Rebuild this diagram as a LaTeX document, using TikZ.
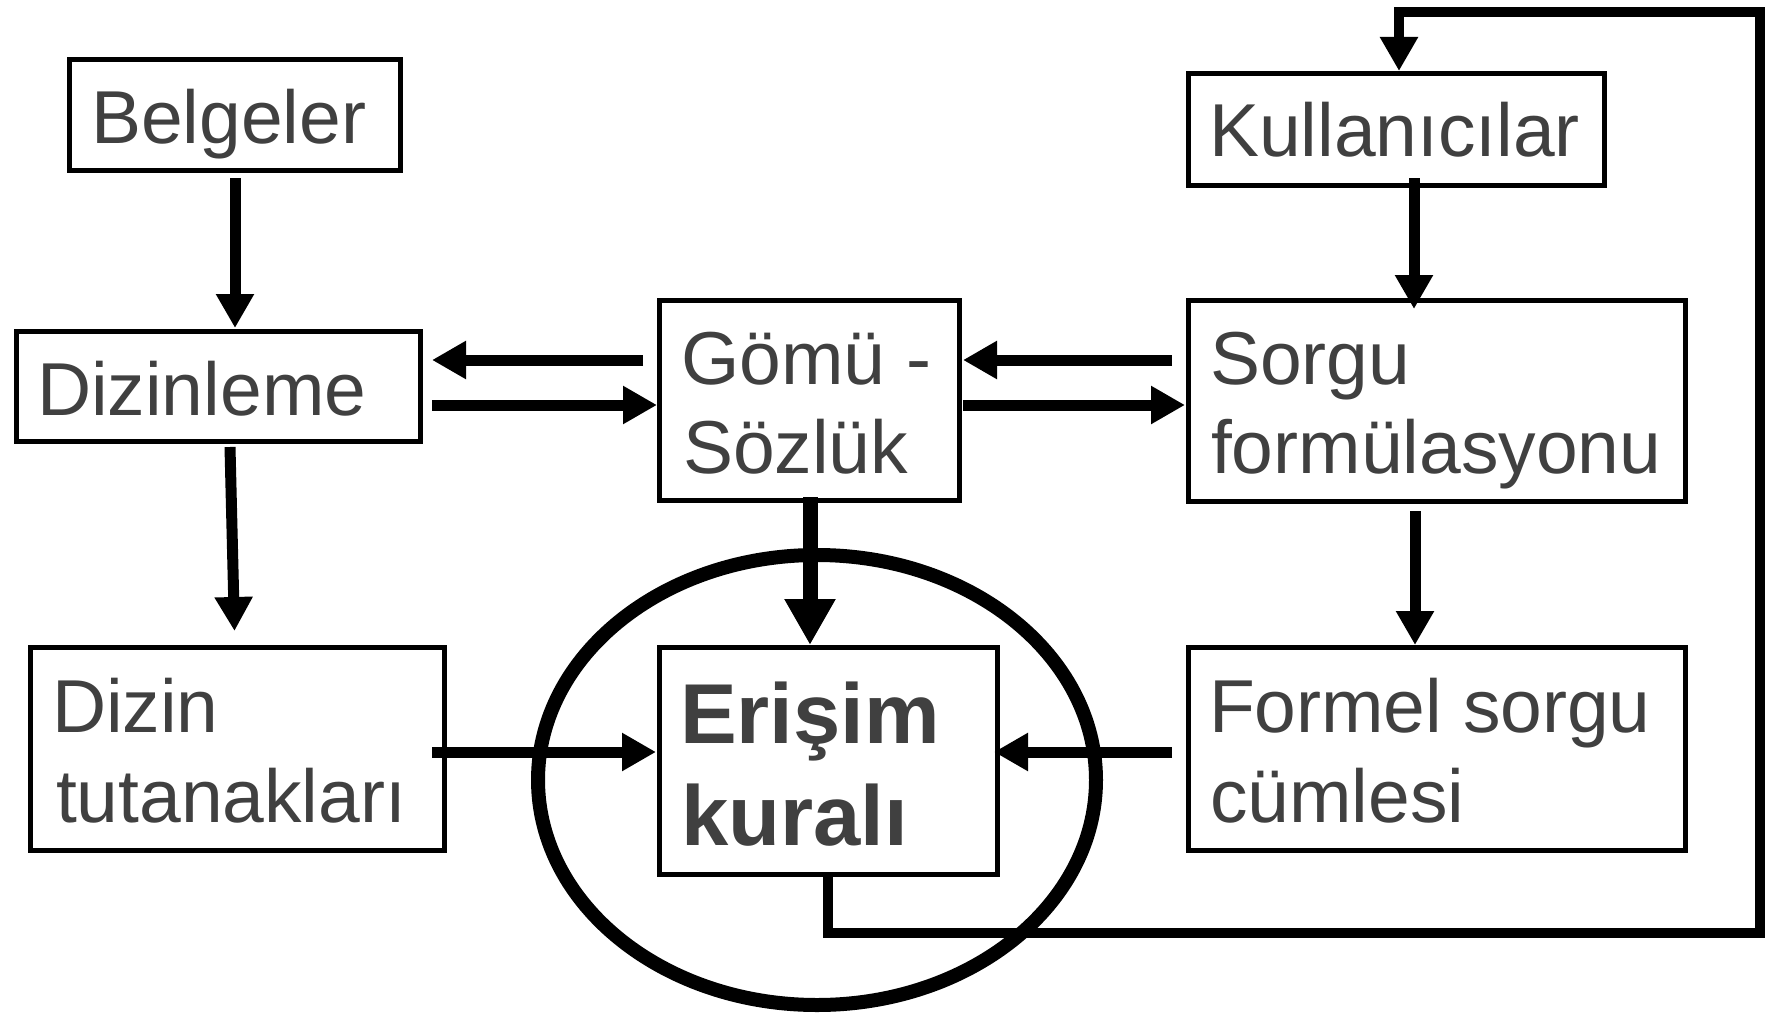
\documentclass[tikz,border=0pt]{standalone}
\usepackage{fontspec}
\setmainfont{Liberation Sans}
\usetikzlibrary{arrows.meta,calc}
\definecolor{txt}{HTML}{404040}
\tikzset{
  box/.style={draw=black, line width=5pt, fill=white, rectangle, inner sep=0pt, outer sep=0pt, anchor=north west},
  lbl/.style={anchor=base west, inner sep=0pt, outer sep=0pt, text=txt, font=\fontsize{75}{90}\selectfont},
  blbl/.style={anchor=base west, inner sep=0pt, outer sep=0pt, text=txt, font=\fontsize{85}{102}\selectfont\bfseries},
  conn/.style={line width=11pt, -{Triangle[length=34pt,width=36pt]}},
  bigconn/.style={line width=15pt, -{Triangle[length=46pt,width=48pt]}},
  loopconn/.style={line width=10pt, line join=miter, -{Triangle[length=34pt,width=36pt]}},
  ring/.style={line width=14pt}
}
\begin{document}
\begin{tikzpicture}[x=1pt,y=-1pt]
\fill[white] (0,0) rectangle (1775,1014);
\useasboundingbox (0,0) rectangle (1775,1014);

% ellipse
\draw[ring] (817,780) ellipse [x radius=279, y radius=225];

% boxes
\node[box, minimum width=331pt, minimum height=111pt] (bel) at (69.5,59.5) {};
\node[box, minimum width=404pt, minimum height=110pt] (diz) at (16.5,331.5) {};
\node[box, minimum width=300pt, minimum height=200pt] (gomu) at (659,300.5) {};
\node[box, minimum width=416pt, minimum height=112pt] (kul) at (1188.5,73.5) {};
\node[box, minimum width=497pt, minimum height=201pt] (sorgu) at (1188.5,300.5) {};
\node[box, minimum width=414pt, minimum height=203pt] (dt) at (30.5,647.5) {};
\node[box, minimum width=338pt, minimum height=227pt] (eri) at (659,647.5) {};
\node[box, minimum width=497pt, minimum height=203pt] (formel) at (1188.5,647.5) {};

% connectors
\draw[conn] ($(bel.south)+(0,7.5)$) -- ($(bel.south |- diz.north)+(0,-3.5)$);
\draw[conn] ($(gomu.north west)+(-16,59.5)$) -- ($(diz.north east)+(11.5,28.5)$);
\draw[conn] ($(diz.north east)+(11.5,73.5)$) -- ($(gomu.north west)+(-2,104.5)$);
\draw[conn] ($(sorgu.north west)+(-16.5,59.5)$) -- ($(gomu.north east)+(4,59.5)$);
\draw[conn] ($(gomu.north east)+(4,104.5)$) -- ($(sorgu.north west)+(-3.5,104.5)$);
\draw[conn] ($(kul.south)+(17.5,-7.5)$) -- ($(sorgu.north)+(-23,8.5)$);
\draw[conn] ($(sorgu.south)+(-22,9.5)$) -- ($(formel.north)+(-22,-2.5)$);
\draw[conn] ($(formel.west)+(-16.5,3)$) -- ($(eri.east)+(-3,-9)$);
\draw[conn] ($(dt.east)+(-12.5,3)$) -- ($(eri.west)+(-3,-9)$);
\draw[conn] ($(diz.south)+(11.5,5.5)$) -- ($(dt.north)+(-3,-16.5)$);
\draw[bigconn] ($(gomu.south)+(1,-3.5)$) -- ($(eri.north)+(-18,-2.5)$);
\draw[loopconn] (eri.south) -- ++(0,58.5) -| ++(932,-921) -| ($(kul.north)+(2.5,-2.5)$);

% texts
\node[lbl] (tbel) at (91,143) {Belgeler};
\node[lbl] (tdiz) at (37,415) {Dizinleme};
\node[lbl] (tgo1) at (681,384) {Gömü -};
\node[lbl] (tgo2) at (683,473) {Sözlük};
\node[lbl] (tkul) at (1209,157) {Kullanıcılar};
\node[lbl] (tso1) at (1210,384) {Sorgu};
\node[lbl] (tso2) at (1211,473) {formülasyonu};
\node[lbl] (tdt1) at (52,732) {Dizin};
\node[lbl] (tdt2) at (56,822) {tutanakları};
\node[blbl] (ter1) at (680,743) {Erişim};
\node[blbl] (ter2) at (681,845) {kuralı};
\node[lbl] (tfo1) at (1209,732) {Formel sorgu};
\node[lbl] (tfo2) at (1210,822) {cümlesi};
\end{tikzpicture}
\end{document}
